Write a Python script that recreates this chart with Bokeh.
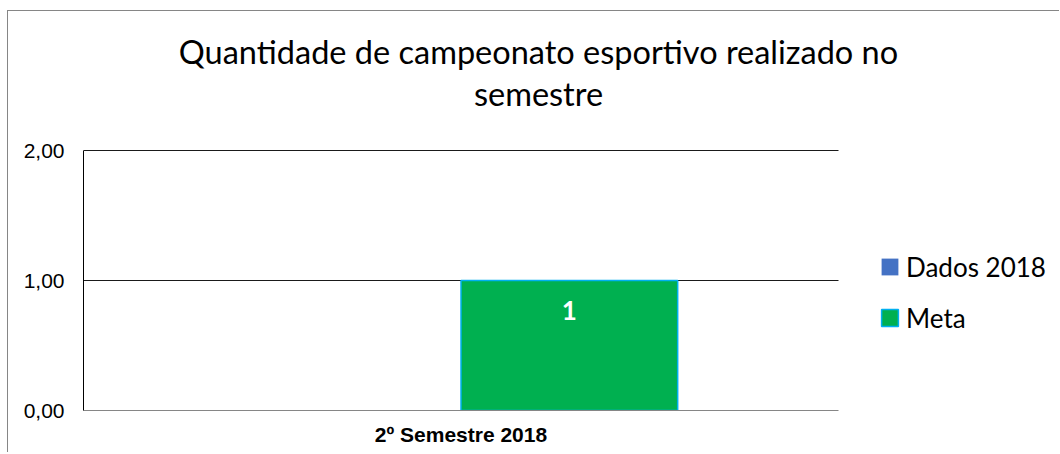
from bokeh.plotting import figure
from bokeh.models import (Range1d, FixedTicker, ColumnDataSource,
                          Legend, LegendItem, Label, LabelSet)
from bokeh.core.properties import value
from bokeh.embed import file_html
from bokeh.resources import INLINE

categories = ["2º Semestre 2018"]
dados_2018 = [0]
meta = [1]
meta_labels = ["1"]
y_ticks = [0, 1, 2]
y_tick_labels = ["0,00", "1,00", "2,00"]
title_lines = ["Quantidade de campeonato esportivo realizado no", "semestre"]
series_names = ["Dados 2018", "Meta"]

# canvas / frame geometry (px)
W, H = 1052, 442
FL, FB = 75, 43            # left and bottom borders
PLOT_W, PLOT_H = 755, 260  # drawing area of the chart inside the frame
frame_w, frame_h = W - FL, H - FB
n = len(categories)
y_max = max(y_ticks)

p = figure(width=W, height=H, output_backend="svg", toolbar_location=None,
           x_range=Range1d(0, n * frame_w / PLOT_W),
           y_range=Range1d(0, y_max * frame_h / PLOT_H),
           min_border_left=FL, min_border_right=0, min_border_top=0, min_border_bottom=FB)
p.styles = {"border-left": "1px solid #868686", "border-top": "1px solid #868686",
            "margin-left": "7px", "margin-top": "10px"}
p.outline_line_color = None
p.background_fill_color = "white"
p.border_fill_color = "white"

bw = 0.287
centers = [i + 0.5 for i in range(n)]
src = ColumnDataSource(dict(
    xd=[c - bw / 2 for c in centers], xm=[c + bw / 2 for c in centers],
    dados=dados_2018, meta=meta, lbl=meta_labels))
r1 = p.vbar(x="xd", top="dados", width=bw, bottom=0, source=src,
            fill_color="#4472C4", line_color=None)
r2 = p.vbar(x="xm", top="meta", width=bw, bottom=0, source=src,
            fill_color="#00B050", line_color="#00B0F0", line_width=1.5)

p.add_layout(LabelSet(x="xm", y="meta", text="lbl", source=src,
                      text_align="center", text_baseline="middle", y_offset=-30,
                      text_color="white", text_font=value("Lato"), text_font_style="bold",
                      text_font_size="26px"))

# y axis
p.yaxis.ticker = FixedTicker(ticks=y_ticks)
p.yaxis.bounds = (0, y_max)
p.yaxis.major_label_overrides = {t: l for t, l in zip(y_ticks, y_tick_labels)}
p.yaxis.axis_line_color = "black"
p.yaxis.major_tick_line_color = None
p.yaxis.minor_tick_line_color = None
p.yaxis.major_label_standoff = 13
p.yaxis.major_label_text_font = "Liberation Sans"
p.yaxis.major_label_text_font_size = "21px"
p.yaxis.major_label_text_color = "black"

# x axis (categories as tick labels at category centres)
p.xaxis.ticker = FixedTicker(ticks=centers)
p.xaxis.bounds = (0, n)
p.xaxis.major_label_overrides = {c: lab for c, lab in zip(centers, categories)}
p.xaxis.axis_line_color = "#868686"
p.xaxis.major_tick_line_color = None
p.xaxis.minor_tick_line_color = None
p.xaxis.major_label_standoff = 6
p.xaxis.major_label_text_font = "Liberation Sans"
p.xaxis.major_label_text_font_style = "bold"
p.xaxis.major_label_text_font_size = "21px"
p.xaxis.major_label_text_color = "black"

p.xgrid.grid_line_color = None
p.ygrid.ticker = FixedTicker(ticks=y_ticks)
p.ygrid.bounds = (1, y_max)
p.ygrid.cross_bounds = (0, n)
p.ygrid.grid_line_color = "#1a1a1a"
p.ygrid.grid_line_width = 1

# title (screen units relative to the frame: y up from frame bottom)
for t, base in zip(title_lines, [40, 82]):
    p.add_layout(Label(x=530 - FL, y=frame_h - base, x_units="screen", y_units="screen",
                       text=t, text_align="center", text_baseline="alphabetic",
                       text_font="Lato", text_font_size="32.5px", text_color="black"))

legend = Legend(items=[LegendItem(label=series_names[0], renderers=[r1]),
                       LegendItem(label=series_names[1], renderers=[r2])],
                location=(796, 76.5), orientation="vertical",
                glyph_width=21, glyph_height=21, label_standoff=6,
                label_text_font="Lato", label_text_font_size="26px",
                label_text_color="black",
                label_height=31, spacing=19, padding=0, margin=0,
                border_line_color=None, background_fill_alpha=0)
p.add_layout(legend)

open("out.html", "w").write(file_html(p, INLINE))
